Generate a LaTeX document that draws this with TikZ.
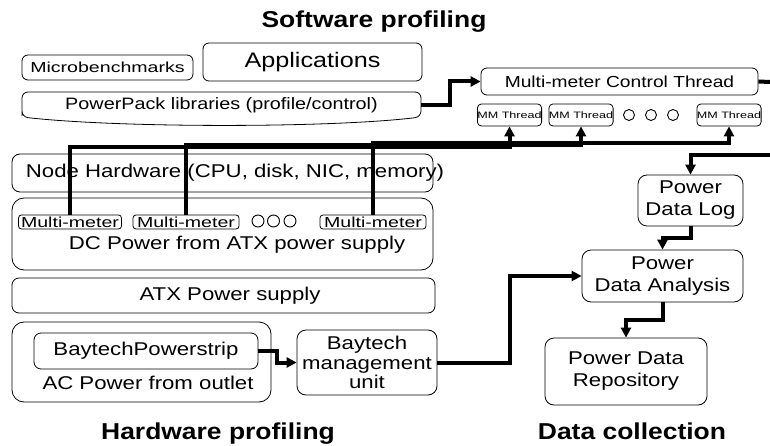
\documentclass[tikz,border=0pt]{standalone}
\usepackage{fontspec}
\setmainfont{Liberation Sans}[FakeStretch=1.2]
\newfontfamily\wideft{Liberation Sans}[FakeStretch=1.35]
\newfontfamily\titleft{Liberation Sans}[FakeStretch=1.15]
\usetikzlibrary{arrows.meta}
\begin{document}
\begin{tikzpicture}[x=1pt,y=-1pt,
  box/.style={draw, line width=0.8pt, rounded corners=6pt, inner sep=0pt, align=center},
  txt/.style={inner sep=0pt, align=center},
  fA/.style={font=\fontsize{18.5}{22}\selectfont},
  flow/.style={line width=4pt, -{Triangle[length=10pt,width=10pt]}},
  plain/.style={line width=4pt},
  ttl/.style={inner sep=0pt, anchor=base, font=\titleft\bfseries\fontsize{23}{26}\selectfont},
  dot/.style={draw, circle, line width=0.9pt, inner sep=0pt},
]
\useasboundingbox (0,0) rectangle (770,446);

% titles
\node[ttl] (tsw) at (374,28) {Software profiling};
\node[ttl] (thw) at (218,439) {Hardware profiling};
\node[ttl] (tdc) at (632,439) {Data collection};

% software layer
\node[box, minimum width=171pt, minimum height=25pt, font=\wideft\fontsize{14.5}{16}\selectfont] (micro) at (107.5,67.5) {Microbenchmarks};
\node[box, minimum width=219pt, minimum height=38pt, font=\fontsize{21}{24}\selectfont] (apps) at (312.5,62) {Applications};
\node[txt, minimum width=399pt, minimum height=26pt, font=\fontsize{16.5}{19}\selectfont] (ppl) at (221.5,105) {PowerPack libraries (profile/control)};
\draw[line width=0.8pt, rounded corners=6pt] (22,110) -- (22,92) -- (421,92) -- (421,117) .. controls (330,128) and (120,128) .. (22,117) -- cycle;

\node[box, minimum width=277pt, minimum height=27pt, font=\fontsize{16}{19}\selectfont] (mmct) at (619.5,81.5) {Multi-meter Control Thread};
\node[box, rounded corners=4pt, minimum width=61pt, minimum height=22pt, font=\wideft\fontsize{9.3}{11}\selectfont] (mmt1) at (509.5,115) {MM Thread};
\node[box, rounded corners=4pt, minimum width=60pt, minimum height=22pt, font=\wideft\fontsize{9.3}{11}\selectfont] (mmt2) at (581,115) {MM Thread};
\node[box, rounded corners=4pt, minimum width=62pt, minimum height=22pt, font=\wideft\fontsize{9.3}{11}\selectfont] (mmt3) at (729,115) {MM Thread};
\node[dot, minimum size=11pt] (sd1) at (629,115) {};
\node[dot, minimum size=11pt] (sd2) at (651,115) {};
\node[dot, minimum size=11pt] (sd3) at (673,115) {};

% hardware layers
\node[box, rounded corners=8pt, minimum width=421pt, minimum height=38pt] (nh) at (222.5,173) {};
\node[txt, fA] (nhtext) at (235,173) {Node Hardware (CPU, disk, NIC, memory)};

\node[box, rounded corners=12pt, minimum width=421pt, minimum height=72pt] (dc) at (222.5,234) {};
\node[box, rounded corners=3pt, minimum width=103pt, minimum height=14pt, font=\wideft\fontsize{14.5}{16}\selectfont] (mm1) at (70,222) {Multi-meter};
\node[box, rounded corners=3pt, minimum width=106pt, minimum height=14pt, font=\wideft\fontsize{14.5}{16}\selectfont] (mm2) at (186,222) {Multi-meter};
\node[box, rounded corners=3pt, minimum width=106pt, minimum height=14pt, font=\wideft\fontsize{14.5}{16}\selectfont] (mm3) at (373,222) {Multi-meter};
\node[dot, minimum size=12pt] (hd1) at (258,221) {};
\node[dot, minimum size=12pt] (hd2) at (273.5,221) {};
\node[dot, minimum size=12pt] (hd3) at (290,221) {};
\node[txt, fA] (dctext) at (237,245) {DC Power from ATX power supply};

\node[box, rounded corners=7pt, minimum width=423pt, minimum height=35pt, fA] (atx) at (223.5,295.5) {\hspace*{13pt}ATX Power supply};

\node[box, rounded corners=12pt, minimum width=259pt, minimum height=80pt] (ac) at (141.5,362) {};
\node[box, rounded corners=7pt, minimum width=224pt, minimum height=36pt, fA] (bps) at (146,351) {BaytechPowerstrip};
\node[txt, fA] (actext) at (148,383) {AC Power from outlet};

\node[box, rounded corners=9pt, minimum width=140pt, minimum height=65pt, font=\fontsize{18.5}{19.5}\selectfont] (bmu) at (367,362.5) {Baytech\\management\\unit};

% data collection
\node[box, rounded corners=9pt, minimum width=105pt, minimum height=51pt, fA] (pdl) at (690.5,200.5) {Power\\Data Log};
\node[box, rounded corners=9pt, minimum width=161pt, minimum height=52pt, fA] (pda) at (662.5,276) {Power\\Data Analysis};
\node[box, rounded corners=9pt, minimum width=162pt, minimum height=67pt, fA] (pdr) at (626,371.5) {Power Data\\Repository};

% free ends at the right edge
\coordinate (edgeA) at (770,82);
\coordinate (edgeB) at (770,155);

% connectors
\draw[flow] (ppl.east) -- ++(29,0) |- (mmct.west);
\draw[plain] (mmct.east) -- (edgeA);
\draw[flow] (mm1.north) -- ++(0,-68) -| (mmt1.south);
\draw[flow] (mm2.north) -- ++(0,-70) -| (mmt2.south);
\draw[flow] (mm3.north) -- ++(0,-72) -| (mmt3.south);
\draw[flow] (edgeB) -| (pdl.north);
\draw[flow] (pdl.south) -- ++(0,12) -| (pda.north);
\draw[flow] (pda.south) -- ++(0,18) -| (pdr.north);
\draw[flow] (bmu.east) -- ++(73,0) |- (pda.west);
\draw[flow] (bps.east) -- ++(19,0) |- (bmu.west);
\end{tikzpicture}
\end{document}
